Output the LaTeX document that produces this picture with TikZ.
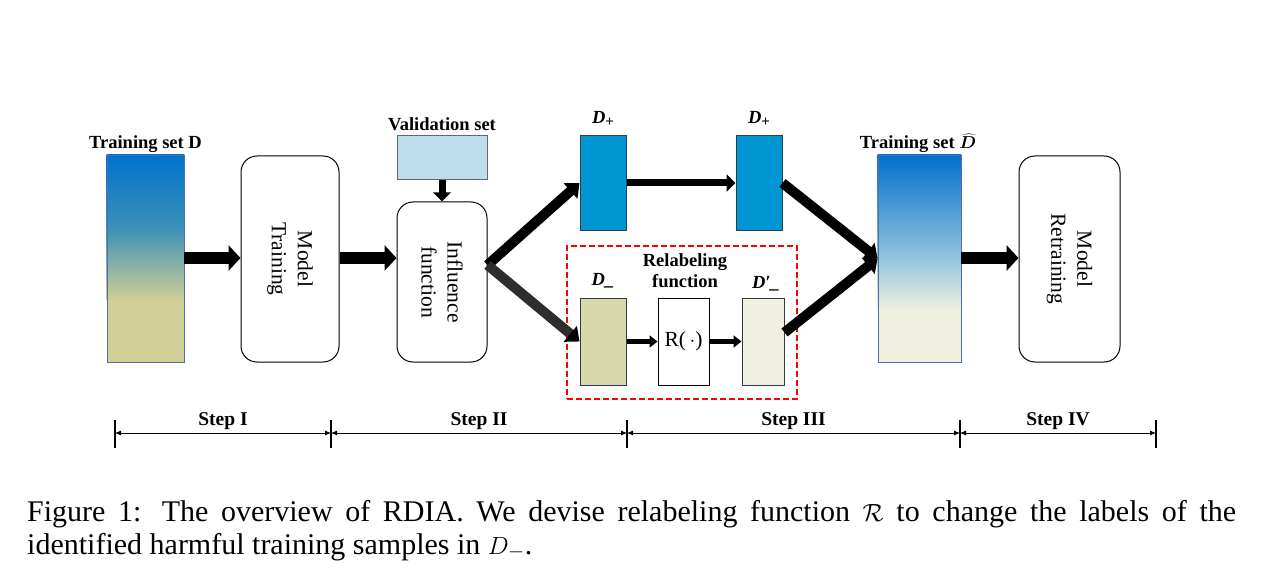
\documentclass[tikz,border=0pt]{standalone}
\usepackage{fontspec}
\setmainfont{Liberation Serif}
\usetikzlibrary{arrows.meta,calc,positioning,backgrounds}
\definecolor{dA}{RGB}{0,114,206}
\definecolor{dB}{RGB}{62,146,182}
\definecolor{dC}{RGB}{208,208,150}
\definecolor{hA}{RGB}{0,112,204}
\definecolor{hB}{RGB}{150,198,222}
\definecolor{hC}{RGB}{240,240,224}
\definecolor{valfill}{RGB}{190,220,238}
\definecolor{dplus}{RGB}{0,150,212}
\definecolor{dminus}{RGB}{216,216,170}
\definecolor{dmprime}{RGB}{240,240,224}
\definecolor{barline}{RGB}{80,110,170}
\definecolor{edge}{RGB}{50,60,70}
\definecolor{darkshaft}{RGB}{45,45,45}
\newcommand\plussub{\raisebox{-0.35ex}{\fontsize{15}{15}\selectfont +}}
\begin{document}
\begin{tikzpicture}[x=1pt,y=-1pt,
  lbl/.style={font=\fontsize{18.5}{21}\selectfont\bfseries, inner sep=0pt, align=center},
  rottext/.style={font=\fontsize{21.5}{26}\selectfont, rotate=-90, align=center, inner sep=0pt},
  bar/.style={draw=barline, line width=0.8pt, inner sep=0pt},
  setbox/.style={draw=edge, line width=1pt, inner sep=0pt},
  modelbox/.style={draw=black, line width=1pt, rounded corners=16pt, inner sep=0pt},
  bigarrow/.style={line width=12pt, -{Triangle[length=12pt,width=25pt]}},
  midarrow/.style={line width=10pt, -{Triangle[length=12pt,width=20pt]}},
  smallarrow/.style={line width=7pt, -{Triangle[length=9pt,width=17pt]}},
  tinyarrow/.style={line width=5pt, -{Triangle[length=8pt,width=12pt]}},
  tick/.style={line width=2pt},
  steparrow/.style={line width=0.9pt, {Latex[length=6pt,width=5pt]}-{Latex[length=6pt,width=5pt]}},
  steplbl/.style={font=\fontsize{19.5}{21}\selectfont\bfseries, inner sep=0pt},
  capfont/.style={font=\fontsize{30}{33}\selectfont, inner sep=0pt}
]
\useasboundingbox (0,0) rectangle (1278,583);

% ---------- nodes ----------
\node[bar, minimum width=77pt, minimum height=207pt] (dtrain) at (145.5,258.5) {};
\node[modelbox, minimum width=98pt, minimum height=206pt] (mtrain) at (290,259) {};
\node[setbox, draw=gray!80!black, fill=valfill, minimum width=90pt, minimum height=44pt] (val) at (442,158) {};
\node[modelbox, minimum width=90pt, minimum height=160pt] (infl) at (442,282) {};
\node[setbox, fill=dplus, minimum width=46pt, minimum height=94pt] (dp1) at (603,183) {};
\node[setbox, fill=dplus, minimum width=46pt, minimum height=94pt] (dp2) at (759,183) {};
\node[setbox, fill=dminus, minimum width=46pt, minimum height=87pt] (dm) at (603,341.5) {};
\node[draw=black, line width=1pt, fill=white, minimum width=51pt, minimum height=87pt, inner sep=0pt,
      font=\fontsize{21.5}{24}\selectfont] (rf) at (683.5,341.5) {R(\,$\cdot$)};
\node[setbox, fill=dmprime, minimum width=42pt, minimum height=87pt] (dmp) at (763,341.5) {};
\node[bar, minimum width=83pt, minimum height=207pt] (hatd) at (919.5,258.5) {};
\node[modelbox, minimum width=101pt, minimum height=206pt] (mre) at (1069.5,259) {};
\node[draw=red, dashed, dash pattern=on 6pt off 3pt, line width=1.6pt, minimum width=230pt, minimum height=153pt, inner sep=0pt] (redbox) at (682,322.5) {};

% gradients
\begin{pgfonlayer}{background}
\fill[top color=dA, bottom color=dB] (dtrain.north west) rectangle (dtrain.east |- 0,230.5);
\fill[top color=dB, bottom color=dC] (dtrain.west |- 0,230) rectangle (dtrain.east |- 0,300.5);
\fill[dC] (dtrain.west |- 0,300) rectangle (dtrain.south east);
\fill[top color=hA, bottom color=hB] (hatd.north west) rectangle (hatd.east |- 0,260.5);
\fill[top color=hB, bottom color=hC] (hatd.west |- 0,260) rectangle (hatd.east |- 0,310.5);
\fill[hC] (hatd.west |- 0,310) rectangle (hatd.south east);
\end{pgfonlayer}

% texts in boxes
\node[rottext] (mtraintxt) at (mtrain.center) {Model\\Training};
\node[rottext] (infltxt) at (infl.center) {Influence\\function};
\node[rottext] (mretxt) at (mre.center) {Model\\Retraining};

% labels
\node[lbl, above=2pt of dtrain] (dtrainlbl) {Training set D};
\node[lbl, above=5pt of val] (vallbl) {Validation set};
\node[lbl, above=9pt of dp1] (dp1lbl) {\textit{D}\plussub};
\node[lbl, above=9pt of dp2] (dp2lbl) {\textit{D}\plussub};
\node[lbl, above=9pt of dm] (dmlbl) {\textit{D\_}};
\node[lbl, anchor=base] (dmplbl) at (766,288) {\textit{D′\_}};
\node[lbl] (relbl) at (685,271) {Relabeling\\function};
\node[lbl, anchor=base] (hatdlbl) at (918,149) {Training set {\boldmath$\widehat{D}$}};

% connectors
\draw[bigarrow] (dtrain.east |- 0,258) -- (mtrain.west |- 0,258);
\draw[bigarrow] (mtrain.east |- 0,258) -- (infl.west |- 0,258);
\draw[smallarrow] (val.south) -- (infl.north);
\coordinate (split) at ($(infl.east)+(0,-17)$);
\draw[midarrow] (split) -- (dp1.west);
\draw[midarrow, darkshaft, -{Triangle[length=12pt,width=20pt,color=black]}] (split) -- (dm.west);
\draw[smallarrow] (dp1.east) -- (dp2.west);
\draw[tinyarrow] (dm.east) -- (rf.west);
\draw[tinyarrow] (rf.east) -- (dmp.west);
\coordinate (dmpout) at ($(dmp.east)+(0,-9)$);
\draw[midarrow] (dp2.east) -- (hatd.west);
\draw[midarrow] (dmpout) -- (hatd.west);
\draw[bigarrow] (hatd.east |- 0,258) -- (mre.west |- 0,258);

% timeline
\coordinate (t1) at (115,433);
\coordinate (t2) at (331,433);
\coordinate (t3) at (627,433);
\coordinate (t4) at (960,433);
\coordinate (t5) at (1156,433);
\foreach \t in {t1,t2,t3,t4,t5}{
  \draw[tick] ($(\t)+(0,-13)$) -- ($(\t)+(0,15)$);
}
\draw[steparrow] (t1) -- (t2) node[steplbl, midway, above=3pt] (s1) {Step I};
\draw[steparrow] (t2) -- (t3) node[steplbl, midway, above=3pt] (s2) {Step II};
\draw[steparrow] (t3) -- (t4) node[steplbl, midway, above=3pt] (s3) {Step III};
\draw[steparrow] (t4) -- (t5) node[steplbl, midway, above=3pt] (s4) {Step IV};

% caption
\node[capfont, anchor=base west] (cap1) at (27,521)
  {\makebox[1209pt][s]{Figure 1: The overview of RDIA. We devise relabeling function $\mathcal{R}$ to change the labels of the}};
\node[capfont, anchor=base west] (cap2) at (27,554)
  {identified harmful training samples in $D_-$.};
\end{tikzpicture}
\end{document}
